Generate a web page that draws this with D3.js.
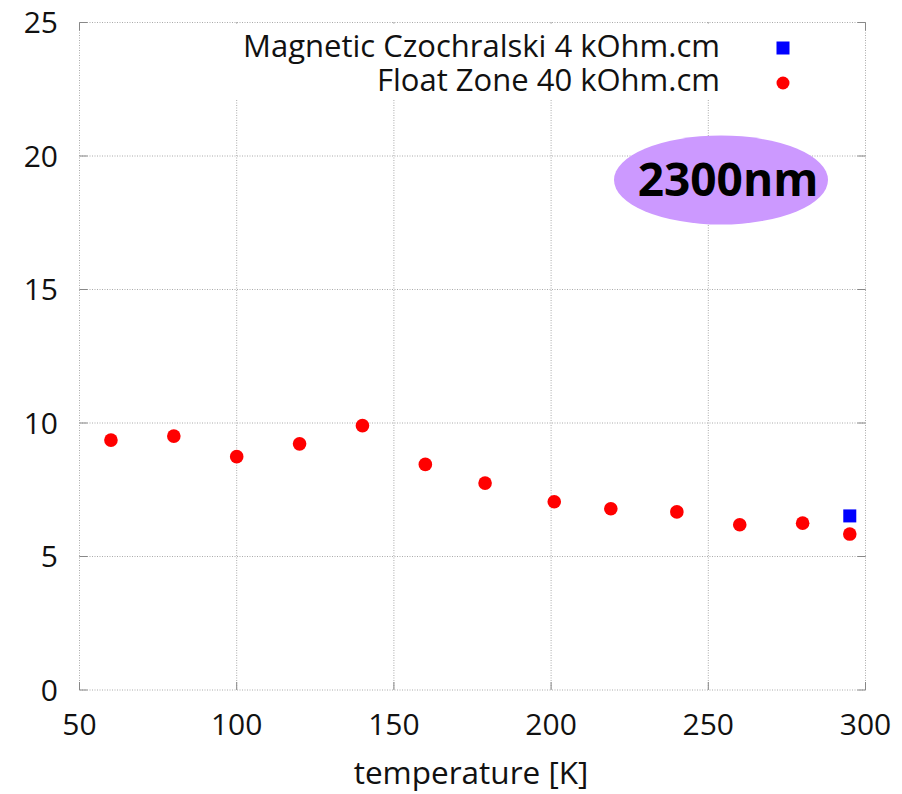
<!DOCTYPE html>
<html>
<head>
<meta charset="utf-8">
<script src="https://cdn.jsdelivr.net/npm/d3@7"></script>
<style>
  body { margin: 0; background: #fff; }
  text { font-family: "Open Sans", sans-serif; fill: #111; }
</style>
</head>
<body>
<script>
// data
var fzTemps = [60, 80, 100, 120, 140, 160, 179, 201, 219, 240, 260, 280, 295];
var fzValues = [9.36, 9.51, 8.74, 9.22, 9.9, 8.45, 7.75, 7.05, 6.79, 6.67, 6.19, 6.25, 5.84];
var mczTemps = [295];
var mczValues = [6.52];
var xTicks = [50, 100, 150, 200, 250, 300];
var yTicks = [0, 5, 10, 15, 20, 25];
var legendLabels = ["Magnetic Czochralski 4 kOhm.cm", "Float Zone 40 kOhm.cm"];

var width = 902, height = 794;
var pLeft = 79.5, pRight = 865.5, pTop = 22.5, pBottom = 690;

var svg = d3.select('body').append('svg').attr('width', width).attr('height', height);

var x = d3.scaleLinear().domain([50, 300]).range([pLeft, pRight]);
var y = d3.scaleLinear().domain([0, 25]).range([pBottom, pTop]);

// grid (dotted, light grey like gnuplot)
var grid = svg.append('g').attr('stroke', '#aaa').attr('stroke-width', 1).attr('stroke-dasharray', '1,1.5');
grid.selectAll('.vx').data(xTicks).enter().append('line')
  .attr('x1', d => x(d)).attr('x2', d => x(d)).attr('y1', pTop).attr('y2', pBottom);
grid.selectAll('.hy').data(yTicks).enter().append('line')
  .attr('x1', pLeft).attr('x2', pRight).attr('y1', d => y(d)).attr('y2', d => y(d));

// small inward ticks
var ticks = svg.append('g').attr('stroke', '#888').attr('stroke-width', 1);
ticks.selectAll('.tl').data(yTicks).enter().append('line')
  .attr('x1', pLeft).attr('x2', pLeft + 8).attr('y1', d => y(d)).attr('y2', d => y(d));
ticks.selectAll('.tr').data(yTicks).enter().append('line')
  .attr('x1', pRight - 8).attr('x2', pRight).attr('y1', d => y(d)).attr('y2', d => y(d));
ticks.selectAll('.tb').data(xTicks).enter().append('line')
  .attr('x1', d => x(d)).attr('x2', d => x(d)).attr('y1', pBottom - 8).attr('y2', pBottom);
ticks.selectAll('.tt').data(xTicks).enter().append('line')
  .attr('x1', d => x(d)).attr('x2', d => x(d)).attr('y1', pTop).attr('y2', pTop + 8);

// legend box (covers grid)
svg.append('rect').attr('x', 225).attr('y', pTop + 1).attr('width', 580).attr('height', 76).attr('fill', '#fff');

// tick labels
svg.selectAll('.yl').data(yTicks).enter().append('text')
  .attr('x', 58).attr('y', d => y(d)).attr('dy', '0.35em')
  .attr('text-anchor', 'end').attr('font-size', 30).text(d => d);
svg.selectAll('.xl').data(xTicks).enter().append('text')
  .attr('x', d => x(d)).attr('y', 735)
  .attr('text-anchor', 'middle').attr('font-size', 30).text(d => d);

svg.append('text').attr('x', 471).attr('y', 784).attr('text-anchor', 'middle')
  .attr('font-size', 31.5).text('temperature [K]');

// legend
svg.selectAll('.lg').data(legendLabels).enter().append('text')
  .attr('x', 720).attr('y', (d, i) => 57 + i * 34)
  .attr('text-anchor', 'end').attr('font-size', 31).text(d => d);
svg.append('rect').attr('x', 783 - 6.5).attr('y', 48 - 6.5).attr('width', 13).attr('height', 13).attr('fill', '#0000ff');
svg.append('circle').attr('cx', 783).attr('cy', 83).attr('r', 6.5).attr('fill', '#ff0000');

// annotation ellipse
svg.append('ellipse').attr('cx', 721).attr('cy', 180).attr('rx', 107).attr('ry', 44.5).attr('fill', '#cc99ff');
svg.append('text').attr('x', 728).attr('y', 180).attr('dy', '0.35em').attr('text-anchor', 'middle')
  .attr('font-size', 46).attr('font-weight', 'bold').style('fill', '#000').text('2300nm');

// data
svg.selectAll('.fz').data(fzTemps).enter().append('circle')
  .attr('cx', d => x(d)).attr('cy', (d, i) => y(fzValues[i])).attr('r', 6.8).attr('fill', '#ff0000');
svg.selectAll('.mcz').data(mczTemps).enter().append('rect')
  .attr('x', d => x(d) - 6.5).attr('y', (d, i) => y(mczValues[i]) - 6.5)
  .attr('width', 13).attr('height', 13).attr('fill', '#0000ff');
</script>
</body>
</html>
